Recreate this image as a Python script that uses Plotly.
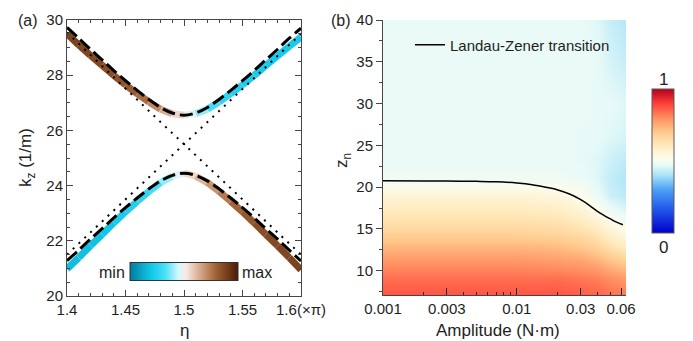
import plotly.graph_objects as go
from plotly.colors import sample_colorscale

# ---------------- data: panel (a) ----------------
eta = [1.40, 1.41, 1.42, 1.43, 1.44, 1.45, 1.46, 1.47, 1.48, 1.49, 1.50,
       1.51, 1.52, 1.53, 1.54, 1.55, 1.56, 1.57, 1.58, 1.59, 1.60]
k_upper_dash = [29.73, 29.34, 28.94, 28.56, 28.17, 27.80, 27.45, 27.12, 26.83, 26.63, 26.55,
                26.63, 26.83, 27.12, 27.45, 27.80, 28.17, 28.56, 28.94, 29.34, 29.70]
k_lower_dash = [21.28, 21.66, 22.06, 22.44, 22.83, 23.20, 23.55, 23.88, 24.17, 24.37, 24.45,
                24.37, 24.17, 23.88, 23.55, 23.20, 22.83, 22.44, 22.06, 21.66, 21.27]
k_upper_band = [29.50, 29.10, 28.72, 28.36, 27.99, 27.65, 27.33, 27.03, 26.77, 26.60, 26.55,
                26.60, 26.77, 27.03, 27.33, 27.65, 27.99, 28.35, 28.70, 29.05, 29.38]
k_lower_band = [20.98, 21.39, 21.82, 22.23, 22.65, 23.05, 23.43, 23.79, 24.11, 24.34, 24.45,
                24.34, 24.11, 23.79, 23.43, 23.05, 22.65, 22.23, 21.82, 21.39, 20.95]
k_cross_up = [21.50, 21.90, 22.30, 22.70, 23.10, 23.50, 23.90, 24.30, 24.70, 25.10, 25.50,
              25.90, 26.30, 26.70, 27.10, 27.50, 27.90, 28.30, 28.70, 29.10, 29.50]
k_cross_down = [29.55, 29.14, 28.73, 28.32, 27.91, 27.50, 27.10, 26.70, 26.30, 25.90, 25.50,
                25.10, 24.70, 24.30, 23.90, 23.50, 23.10, 22.70, 22.30, 21.90, 21.50]
w_upper = [0.89, 0.88, 0.87, 0.86, 0.85, 0.83, 0.80, 0.75, 0.68, 0.60, 0.52,
           0.43, 0.35, 0.29, 0.25, 0.23, 0.22, 0.21, 0.21, 0.21, 0.21]
w_lower = [0.17, 0.17, 0.18, 0.19, 0.20, 0.22, 0.25, 0.29, 0.35, 0.43, 0.51,
           0.59, 0.66, 0.72, 0.77, 0.81, 0.84, 0.86, 0.87, 0.88, 0.89]

eta_ticks = [1.4, 1.45, 1.5, 1.55, 1.6]
eta_ticktext = ["1.4", "1.45", "1.5", "1.55", "1.6(×π)"]
k_ticks = [20, 22, 24, 26, 28, 30]

# ---------------- data: panel (b) ----------------
amp_cols = [0.001, 0.003, 0.01, 0.02, 0.03, 0.04, 0.05, 0.067]
zn_rows = [6, 9, 11, 13, 15, 17, 19, 21, 23, 26, 30, 35, 41]
prob = [
    [0.89, 0.89, 0.89, 0.89, 0.88, 0.87, 0.86, 0.85],
    [0.84, 0.84, 0.84, 0.84, 0.83, 0.82, 0.80, 0.78],
    [0.79, 0.79, 0.79, 0.78, 0.77, 0.75, 0.72, 0.69],
    [0.73, 0.73, 0.73, 0.72, 0.70, 0.67, 0.63, 0.59],
    [0.66, 0.66, 0.66, 0.65, 0.63, 0.60, 0.56, 0.52],
    [0.61, 0.61, 0.61, 0.60, 0.57, 0.53, 0.49, 0.46],
    [0.56, 0.56, 0.56, 0.55, 0.52, 0.48, 0.44, 0.42],
    [0.49, 0.49, 0.49, 0.49, 0.48, 0.46, 0.43, 0.41],
    [0.475, 0.475, 0.475, 0.475, 0.47, 0.46, 0.44, 0.42],
    [0.475, 0.475, 0.475, 0.475, 0.47, 0.47, 0.46, 0.45],
    [0.475, 0.475, 0.475, 0.475, 0.475, 0.47, 0.47, 0.46],
    [0.475, 0.475, 0.475, 0.475, 0.475, 0.47, 0.45, 0.43],
    [0.475, 0.475, 0.475, 0.475, 0.47, 0.46, 0.43, 0.41],
]
amp_lz = [0.001, 0.002, 0.003, 0.005, 0.007, 0.01, 0.013, 0.017, 0.02, 0.025,
          0.03, 0.035, 0.04, 0.045, 0.05, 0.055, 0.062]
zn_lz = [20.76, 20.75, 20.73, 20.70, 20.65, 20.50, 20.30, 19.95, 19.70, 19.15,
         18.50, 17.80, 17.10, 16.60, 16.20, 15.85, 15.50]
amp_ticks = [0.001, 0.003, 0.01, 0.03, 0.06]
amp_ticktext = ["0.001", "0.003", "0.01", "0.03", "0.06"]
amp_minor = [0.002, 0.004, 0.005, 0.006, 0.007, 0.008, 0.009, 0.02, 0.04, 0.05]
zn_ticks = [10, 15, 20, 25, 30, 35, 40]

# ---------------- styles ----------------
scale_a = [
    [0.00, "rgb(0,125,158)"],
    [0.20, "rgb(20,200,235)"],
    [0.32, "rgb(70,222,246)"],
    [0.45, "rgb(212,248,252)"],
    [0.52, "rgb(246,234,226)"],
    [0.65, "rgb(214,168,138)"],
    [0.80, "rgb(160,95,50)"],
    [1.00, "rgb(72,28,4)"],
]
scale_b = [
    [0.00, "rgb(0,0,200)"],
    [0.15, "rgb(30,80,232)"],
    [0.30, "rgb(75,160,246)"],
    [0.40, "rgb(168,226,248)"],
    [0.47, "rgb(232,250,248)"],
    [0.52, "rgb(252,252,236)"],
    [0.60, "rgb(255,236,192)"],
    [0.70, "rgb(255,202,142)"],
    [0.80, "rgb(255,142,96)"],
    [0.90, "rgb(255,62,56)"],
    [1.00, "rgb(178,0,32)"],
]
FONT = "Liberation Sans, Arial, sans-serif"
AX = "rgb(70,70,70)"
W, H = 693, 341


def px(x):
    return x / W


def py(y):
    return 1 - y / H


fig = go.Figure()

# colored bands (segment by segment)
for kb, wv in ((k_upper_band, w_upper), (k_lower_band, w_lower)):
    mids = [(wv[i] + wv[i + 1]) / 2 for i in range(len(eta) - 1)]
    cols = sample_colorscale(scale_a, mids)
    for i in range(len(eta) - 1):
        fig.add_trace(go.Scatter(
            x=eta[i:i + 2], y=kb[i:i + 2], mode="lines",
            line=dict(color=cols[i], width=7),
            showlegend=False, hoverinfo="skip", xaxis="x", yaxis="y"))

# dotted crossing lines
for kc in (k_cross_up, k_cross_down):
    fig.add_trace(go.Scatter(
        x=eta, y=kc, mode="lines", line=dict(color="black", width=2, dash="2px,6px"),
        showlegend=False, hoverinfo="skip", xaxis="x", yaxis="y"))

# dashed curves
for kd in (k_upper_dash, k_lower_dash):
    fig.add_trace(go.Scatter(
        x=eta, y=kd, mode="lines", line=dict(color="black", width=3, dash="13px,5px", shape="spline"),
        showlegend=False, hoverinfo="skip", xaxis="x", yaxis="y"))

# dummy trace carrying the min/max colorbar
fig.add_trace(go.Scatter(
    x=[1.5, 1.5], y=[25.5, 25.5], mode="markers",
    marker=dict(size=0.1, opacity=0, color=[0, 1], coloraxis="coloraxis2"),
    showlegend=False, hoverinfo="skip", xaxis="x", yaxis="y"))

# panel (b) heatmap
fig.add_trace(go.Heatmap(
    x=amp_cols, y=zn_rows, z=prob, coloraxis="coloraxis", zsmooth="best",
    xaxis="x2", yaxis="y2", hoverinfo="skip"))

fig.add_trace(go.Scatter(
    x=amp_lz, y=zn_lz, mode="lines", line=dict(color="black", width=1.5, shape="spline"),
    name="Landau-Zener transition", xaxis="x2", yaxis="y2"))

tickfont = dict(family=FONT, size=15, color="rgb(30,30,30)")

fig.update_layout(
    width=W, height=H, autosize=False,
    margin=dict(l=0, r=0, t=0, b=0, autoexpand=False),
    paper_bgcolor="white", plot_bgcolor="white",
    font=dict(family=FONT, size=15, color="rgb(30,30,30)"),
    xaxis=dict(domain=[px(59), px(293)], range=[1.4, 1.6], anchor="y",
               tickvals=eta_ticks, ticktext=eta_ticktext, tickfont=tickfont,
               ticks="inside", ticklen=6, tickcolor=AX, showline=True, linecolor=AX,
               linewidth=1, mirror="ticks", showgrid=False, zeroline=False, automargin=False,
               minor=dict(dtick=0.01, tick0=1.4, ticks="inside", ticklen=3, tickcolor=AX)),
    yaxis=dict(domain=[py(288), py(12)], range=[20, 30], anchor="x",
               tickvals=k_ticks, tickfont=tickfont,
               ticks="inside", ticklen=6, tickcolor=AX, showline=True, linecolor=AX,
               linewidth=1, mirror="ticks", showgrid=False, zeroline=False, automargin=False,
               minor=dict(dtick=0.5, tick0=20, ticks="inside", ticklen=3, tickcolor=AX)),
    xaxis2=dict(domain=[px(375), px(618)], type="log", range=[-3, -1.1845], anchor="y2",
                tickvals=amp_ticks, ticktext=amp_ticktext, tickfont=tickfont,
                ticks="inside", ticklen=7, tickcolor="rgb(40,40,40)", showline=True,
                linecolor=AX, linewidth=1, showgrid=False, zeroline=False, automargin=False,
                minor=dict(tickvals=amp_minor, ticks="inside", ticklen=3,
                           tickcolor="rgb(40,40,40)")),
    yaxis2=dict(domain=[py(287), py(12)], range=[7.1, 40], anchor="x2",
                tickvals=zn_ticks, tickfont=tickfont,
                ticks="outside", ticklen=6, tickcolor=AX, showline=True, linecolor=AX,
                linewidth=1, showgrid=False, zeroline=False, automargin=False,
                minor=dict(dtick=2.5, tick0=0, ticks="outside", ticklen=3, tickcolor=AX)),
    coloraxis=dict(colorscale=scale_b, cmin=0, cmax=1,
                   colorbar=dict(x=px(644), xanchor="left", y=py(153), yanchor="middle",
                                 len=144, lenmode="pixels", thickness=22,
                                 thicknessmode="pixels", showticklabels=False, ticks="",
                                 outlinecolor="rgb(90,90,90)", outlinewidth=1,
                                 xpad=0, ypad=0)),
    coloraxis2=dict(colorscale=scale_a, cmin=0, cmax=1,
                    colorbar=dict(orientation="h", x=px(176), xanchor="center",
                                  y=py(264), yanchor="middle", len=108, lenmode="pixels",
                                  thickness=18, thicknessmode="pixels",
                                  showticklabels=False, ticks="",
                                  outlinecolor="rgb(50,50,50)", outlinewidth=1,
                                  xpad=0, ypad=0)),
    legend=dict(x=px(402), y=py(37), xanchor="left", yanchor="middle",
                bgcolor="rgba(0,0,0,0)", borderwidth=0,
                font=dict(family=FONT, size=15, color="rgb(30,30,30)")),
    showlegend=True,
)

ann = [
    dict(text="(a)", x=px(20), y=py(13), font=dict(size=16)),
    dict(text="(b)", x=px(333), y=py(13), font=dict(size=16)),
    dict(text="η", x=px(176), y=py(322), font=dict(size=17)),
    dict(text="Amplitude (N·m)", x=px(490), y=py(322), font=dict(size=17)),
    dict(text="k<sub>z</sub> (1/m)", x=px(19), y=py(150), font=dict(size=17), textangle=-90),
    dict(text="z<sub>n</sub>", x=px(335), y=py(153), font=dict(size=17), textangle=-90),
    dict(text="min", x=px(119), y=py(264), xanchor="right", font=dict(size=16)),
    dict(text="max", x=px(232), y=py(264), xanchor="left", font=dict(size=16)),
    dict(text="1", x=px(655), y=py(71), font=dict(size=17)),
    dict(text="0", x=px(655), y=py(239), font=dict(size=17)),
]
for a in ann:
    a.setdefault("xanchor", "center")
    a.update(xref="paper", yref="paper", yanchor="middle", showarrow=False)
    fig.add_annotation(**a)

fig.write_html("out.html")
